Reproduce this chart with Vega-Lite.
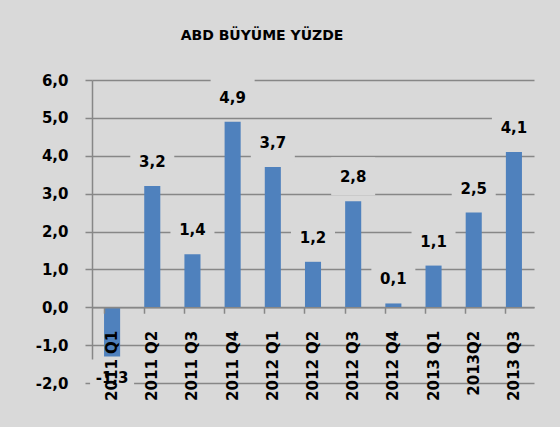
{
  "$schema": "https://vega.github.io/schema/vega-lite/v6.json",
  "width": 442,
  "height": 303,
  "autosize": {"type": "none"},
  "padding": {"left": 92, "top": 80, "right": 26, "bottom": 44},
  "background": "#d9d9d9",
  "title": {
    "text": "ABD BÜYÜME YÜZDE",
    "font": "DejaVu Sans",
    "fontSize": 14,
    "fontWeight": "bold",
    "color": "#000000",
    "anchor": "middle",
    "frame": "group",
    "dx": -51,
    "offset": 30
  },
  "config": {
    "locale": {
      "number": {"decimal": ",", "thousands": ".", "grouping": [3], "currency": ["", ""], "minus": "-"}
    },
    "view": {"stroke": null, "fill": null},
    "axis": {
      "labelFont": "DejaVu Sans",
      "labelFontSize": 15,
      "labelFontWeight": "bold",
      "labelColor": "#000000",
      "domainColor": "#878787",
      "tickColor": "#878787",
      "gridColor": "#878787",
      "gridOpacity": 1,
      "domainWidth": 1.5,
      "tickWidth": 1.5,
      "gridWidth": 1.5
    }
  },
  "data": {
    "values": [
      {"q": "2011 Q1", "v": -1.3},
      {"q": "2011 Q2", "v": 3.2},
      {"q": "2011 Q3", "v": 1.4},
      {"q": "2011 Q4", "v": 4.9},
      {"q": "2012 Q1", "v": 3.7},
      {"q": "2012 Q2", "v": 1.2},
      {"q": "2012 Q3", "v": 2.8},
      {"q": "2012 Q4", "v": 0.1},
      {"q": "2013 Q1", "v": 1.1},
      {"q": "2013Q2", "v": 2.5},
      {"q": "2013 Q3", "v": 4.1}
    ]
  },
  "encoding": {
    "x": {
      "field": "q",
      "type": "nominal",
      "sort": null,
      "title": null,
      "scale": {"paddingInner": 0.6, "paddingOuter": 0.3},
      "axis": {
        "labelAngle": -90,
        "offset": -75.75,
        "tickSize": 6,
        "labelPadding": 17,
        "bandPosition": 0,
        "zindex": 1
      }
    },
    "y": {
      "field": "v",
      "type": "quantitative",
      "title": null,
      "scale": {"domain": [-2, 6], "nice": false},
      "axis": {
        "values": [-2, -1, 0, 1, 2, 3, 4, 5, 6],
        "format": ".1f",
        "tickSize": 7,
        "labelPadding": 17,
        "grid": true,
        "zindex": 0
      }
    }
  },
  "layer": [
    {
      "mark": {"type": "bar", "color": "#4f81bd"}
    },
    {
      "transform": [{"filter": "datum.v >= 0"}],
      "mark": {"type": "point", "filled": true, "color": "#d9d9d9", "opacity": 1, "size": 1936, "strokeWidth": 0, "shape": "M-1,-2H1V-0.27H-1Z"}
    },
    {
      "transform": [{"filter": "datum.v < 0"}],
      "mark": {"type": "point", "filled": true, "color": "#d9d9d9", "opacity": 1, "size": 1936, "strokeWidth": 0, "shape": "M-1,0.14H1V1.86H-1Z"}
    },
    {
      "transform": [{"filter": "datum.v >= 0"}],
      "mark": {"type": "text", "font": "DejaVu Sans", "fontSize": 15, "fontWeight": "bold", "color": "#000000", "baseline": "middle", "dy": -24},
      "encoding": {
        "text": {"field": "v", "type": "quantitative", "format": ".1f"}
      }
    },
    {
      "transform": [{"filter": "datum.v < 0"}],
      "mark": {"type": "text", "font": "DejaVu Sans", "fontSize": 15, "fontWeight": "bold", "color": "#000000", "baseline": "middle", "dy": 22},
      "encoding": {
        "text": {"field": "v", "type": "quantitative", "format": ".1f"}
      }
    }
  ]
}
